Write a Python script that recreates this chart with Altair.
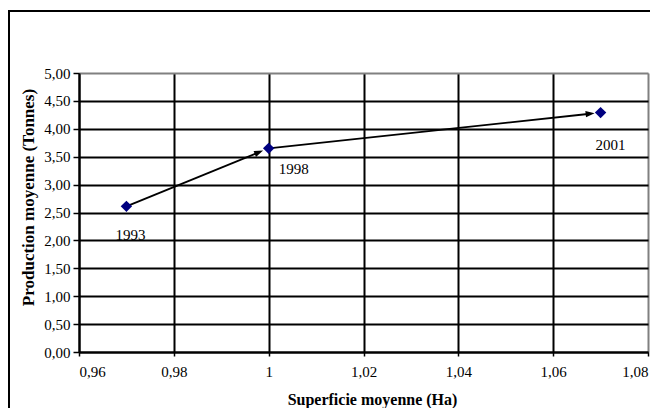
import math
import altair as alt
import pandas as pd

# ---- data ----
superficie = [0.97, 1.00, 1.07]
production = [2.61, 3.65, 4.29]
annees = ["1993", "1998", "2001"]

x_ticks = [0.96, 0.98, 1.00, 1.02, 1.04, 1.06, 1.08]
y_ticks = [0.0, 0.5, 1.0, 1.5, 2.0, 2.5, 3.0, 3.5, 4.0, 4.5, 5.0]

X_DOM = [0.96, 1.08]
Y_DOM = [0.0, 5.0]
W, H = 569, 279
FONT = "Liberation Serif"

points = pd.DataFrame({"superficie": superficie, "production": production, "annee": annees})

# arrows between consecutive years (shortened so the heads stop before the markers)
sx = W / (X_DOM[1] - X_DOM[0])
sy = H / (Y_DOM[1] - Y_DOM[0])
GAP = 6.0
HEAD = 9.0
rows = []
for i in range(len(superficie) - 1):
    xa, ya = superficie[i], production[i]
    xb, yb = superficie[i + 1], production[i + 1]
    dxp, dyp = (xb - xa) * sx, (yb - ya) * sy
    L = math.hypot(dxp, dyp)
    ux, uy = dxp / L, dyp / L
    back = GAP + HEAD / 2
    hx = xb - back * ux / sx
    hy = yb - back * uy / sy
    ang = math.degrees(math.atan2(ux, uy)) % 360
    rows.append({"x": xa, "y": ya, "x2": hx, "y2": hy, "angle": ang})
segs = pd.DataFrame(rows)

xs = alt.Scale(domain=X_DOM, nice=False, zero=False)
ys = alt.Scale(domain=Y_DOM, nice=False, zero=False)

x_axis = alt.Axis(
    values=x_ticks,
    labelExpr="replace(format(datum.value, '.2~f'), '.', ',')",
    title="Superficie moyenne (Ha)",
    grid=True,
    gridColor={"condition": {"test": "datum.value > 1.079", "value": "#808080"}, "value": "black"},
    gridWidth=2,
    domainColor="black",
    domainWidth=2,
    tickColor="black",
    tickSize=4,
    tickWidth=1.5,
    labelPadding=8,
    labelFont=FONT,
    labelFontSize=15,
    labelColor="black",
    labelOverlap=False,
    titleFont=FONT,
    titleFontSize=16,
    titleFontWeight="bold",
    titleColor="black",
    titleX=293,
    titleY=47,
    titleAlign="center",
    titleBaseline="middle",
)
y_axis = alt.Axis(
    values=y_ticks,
    labelExpr="replace(format(datum.value, '.2f'), '.', ',')",
    title="Production moyenne (Tonnes)",
    grid=True,
    gridColor={"condition": {"test": "datum.value > 4.99", "value": "#808080"}, "value": "black"},
    gridWidth=2,
    domainColor="black",
    domainWidth=2,
    tickColor="black",
    tickSize=6,
    tickWidth=1.5,
    labelPadding=3,
    labelFont=FONT,
    labelFontSize=15,
    labelColor="black",
    labelOverlap=False,
    titleFont=FONT,
    titleFontSize=17,
    titleFontWeight="bold",
    titleColor="black",
    titleAngle=270,
    titleX=-51,
    titleY=124,
    titleAlign="center",
    titleBaseline="middle",
)


def X(field):
    return alt.X(field, scale=xs, axis=x_axis)


def Y(field):
    return alt.Y(field, scale=ys, axis=y_axis)


frame_data = alt.Data(values=[{"k": 1}])
frame_left = alt.Chart(frame_data).mark_rule(color="black", strokeWidth=2).encode(
    x=alt.value(-70), y=alt.value(-62), y2=alt.value(420)
)
frame_top = alt.Chart(frame_data).mark_rule(color="black", strokeWidth=2).encode(
    y=alt.value(-62), x=alt.value(-71), x2=alt.value(700)
)

lines = alt.Chart(segs).mark_rule(color="black", strokeWidth=1.8).encode(
    x=X("x:Q"),
    y=Y("y:Q"),
    x2="x2:Q",
    y2="y2:Q",
)
heads = alt.Chart(segs).mark_point(
    shape="M0,-1L0.7,1L-0.7,1Z", filled=True, color="black", opacity=1, size=HEAD * HEAD
).encode(
    x=X("x2:Q"),
    y=Y("y2:Q"),
    angle=alt.Angle("angle:Q", scale=None),
)

base = alt.Chart(points)
dots = base.mark_point(shape="diamond", filled=True, color="#000080", opacity=1, size=130).encode(
    x=X("superficie:Q"),
    y=Y("production:Q"),
)

label_offsets = {"1993": (4, 34), "1998": (25, 26), "2001": (10, 37)}
labels = []
for yr, (ddx, ddy) in label_offsets.items():
    labels.append(
        base.transform_filter(alt.datum.annee == yr)
        .mark_text(font=FONT, fontSize=15, color="black", dx=ddx, dy=ddy, baseline="alphabetic", align="center")
        .encode(x=X("superficie:Q"), y=Y("production:Q"), text="annee:N")
    )

chart = (
    alt.layer(frame_left, frame_top, lines, heads, dots, *labels)
    .properties(
        width=W,
        height=H,
        autosize=alt.AutoSizeParams(type="none"),
        padding={"left": 71, "top": 65, "right": 2, "bottom": 56},
    )
    .configure_view(stroke="#808080", strokeWidth=2.5)
    .configure(background="white")
)

chart.save("out.html", embed_options={"renderer": "svg", "actions": False})
